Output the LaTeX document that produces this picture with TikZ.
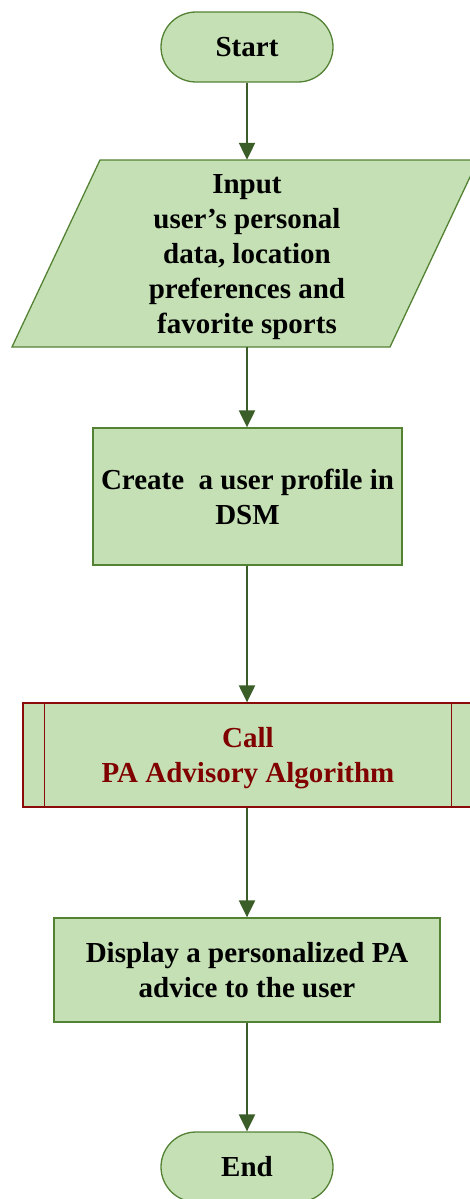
\documentclass[tikz,border=0pt]{standalone}
\usepackage{fontspec}
\setmainfont{Liberation Serif}
\usetikzlibrary{shapes.misc,arrows.meta}
\definecolor{boxfill}{HTML}{C5E0B4}
\definecolor{boxline}{HTML}{548235}
\definecolor{flowline}{HTML}{3B5E28}
\definecolor{callline}{HTML}{8B0A0A}
\definecolor{calltext}{HTML}{800000}
\tikzset{
  x=1pt, y=-1pt,
  every node/.style={font=\fontsize{29}{35}\selectfont\bfseries, align=center, inner sep=0pt},
  term/.style={rounded rectangle, draw=boxline, fill=boxfill, line width=1.3pt,
    minimum width=172pt, minimum height=70pt},
  ioshape/.style={draw=boxline, fill=boxfill, line width=1.3pt},
  procbox/.style={rectangle, draw=boxline, fill=boxfill, line width=1.3pt},
  callbox/.style={rectangle, draw=callline, fill=boxfill, line width=1.3pt,
    text=calltext, minimum width=450pt, minimum height=104pt},
  flow/.style={draw=flowline, line width=2.2pt,
    -{Triangle[length=17pt,width=16pt]}},
}
\begin{document}
\begin{tikzpicture}
\useasboundingbox (0,0) rectangle (470,1199);

\node[term] (start) at (247,47) {Start};

% input parallelogram
\coordinate (inTL) at (100,160);
\coordinate (inTR) at (478,160);
\coordinate (inBR) at (390,347);
\coordinate (inBL) at (12,347);
\path[ioshape] (inTL) -- (inTR) -- (inBR) -- (inBL) -- cycle;
\node[minimum height=187pt] (input) at (247,253.5) {};
\node at (247,257) {Input\\ user’s personal\\data, location\\preferences and\\favorite sports};

\node[procbox, minimum width=309pt, minimum height=137pt] (profile) at (247.5,496.5)
  {Create\ \ a user profile in\\DSM};
\node[callbox] (call) at (248,755) {};
\node[text=calltext] at (248,758) {Call\\ PA Advisory Algorithm};
\draw[callline, line width=1.3pt] ([xshift=22pt]call.north west) -- ([xshift=22pt]call.south west);
\draw[callline, line width=1.3pt] ([xshift=-22pt]call.north east) -- ([xshift=-22pt]call.south east);
\node[procbox, minimum width=386pt, minimum height=104pt] (advice) at (247,970)
  {Display a personalized PA\\advice to the user};
\node[term] (end) at (247,1167) {End};

\draw[flow] (start.south) -- (input.north);
\draw[flow] (input.south) -- (profile.north -| input.south);
\draw[flow] (profile.south -| input.south) -- (call.north -| input.south);
\draw[flow] (call.south -| input.south) -- (advice.north -| input.south);
\draw[flow] (advice.south -| input.south) -- (end.north);
\end{tikzpicture}
\end{document}
